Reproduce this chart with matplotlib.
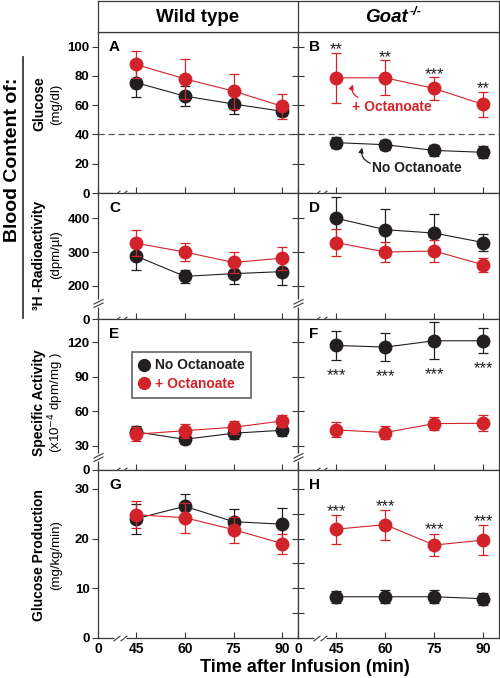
import matplotlib

matplotlib.use("Agg")
import matplotlib.pyplot as plt
from matplotlib.lines import Line2D
from matplotlib.path import Path
from matplotlib import transforms

plt.rcParams["font.family"] = ["Liberation Sans", "DejaVu Sans"]

BLACK = "#231f20"
RED = "#d2232a"
AXIS = "#3a3a3a"

# ---- data ----
time = [45, 60, 75, 90]

# A / B: blood glucose (mg/dl)
wt_glc_no, wt_glc_no_err = [75.4, 66.2, 60.8, 55.8], [10, 6.6, 7, 3]
wt_glc_oct, wt_glc_oct_err = [87.8, 78.0, 69.6, 59.2], [9, 13.7, 12, 8.5]
ko_glc_no, ko_glc_no_err = [34.4, 33.0, 29.1, 27.8], [3.9, 3.5, 4, 4]
ko_glc_oct, ko_glc_oct_err = [78.7, 78.7, 71.4, 60.5], [17, 12, 7.6, 8.4]

# C / D: 3H radioactivity (dpm/ul)
wt_rad_no, wt_rad_no_err = [288, 228, 236, 242], [40, 20, 31, 40]
wt_rad_oct, wt_rad_oct_err = [326, 300, 269, 282], [38, 28, 32, 34]
ko_rad_no, ko_rad_no_err = [400, 366, 356, 328], [62, 62, 57, 25]
ko_rad_oct, ko_rad_oct_err = [328, 300, 303, 262], [39, 30, 34, 20]

# E / F: specific activity (x10^-4 dpm/mg)
wt_sa_no, wt_sa_no_err = [42.0, 35.5, 40.8, 43.4], [5, 4, 5, 5]
wt_sa_oct, wt_sa_oct_err = [40.0, 43.0, 46.0, 51.5], [6, 6, 5.5, 5.5]
ko_sa_no, ko_sa_no_err = [117.4, 116.0, 121.5, 121.5], [12.5, 12, 16, 11]
ko_sa_oct, ko_sa_oct_err = [43.7, 41.4, 49.2, 49.5], [6.5, 5.5, 5.5, 7]

# G / H: glucose production (mg/kg/min)
wt_gp_no, wt_gp_no_err = [24.0, 26.5, 23.4, 22.9], [3, 2.4, 2.5, 3.3]
wt_gp_oct, wt_gp_oct_err = [24.8, 24.2, 21.8, 19.0], [2.7, 3, 2.6, 2]
ko_gp_no, ko_gp_no_err = [8.3, 8.3, 8.3, 7.9], [1.2, 1.3, 1.3, 1.2]
ko_gp_oct, ko_gp_oct_err = [21.9, 22.8, 18.7, 19.7], [2.9, 3, 2.3, 3.1]

stars_B = ["**", "**", "***", "**"]
stars_F = ["***", "***", "***", "***"]
stars_H = ["***", "***", "***", "***"]

xtick_labels = ["0", "45", "60", "75", "90"]
panel_letters = [["A", "B"], ["C", "D"], ["E", "F"], ["G", "H"]]
ylabels = [("Glucose", "(mg/dl)"),
           ("³H -Radioactivity", "(dpm/µl)"),
           ("Specific Activity", "(x10$^{-4}$ dpm/mg )"),
           ("Glucose Production", "(mg/kg/min)")]

# ---- layout (pixels of a 500x678 canvas) ----
W, H = 500, 678
ROWS = [(32, 193), (193, 319), (319, 470), (470, 638)]
COLS = [(98, 298), (298, 499)]
XLIM = (33.3, 94.8)
XBREAK = 40.1
ROW_CFG = [
    dict(ylim=(0, 110), ticks=[0, 20, 40, 60, 80, 100],
         labels=["0", "20", "40", "60", "80", "100"], ybreak=None, minor=[]),
    dict(ylim=(101.8, 474.6), ticks=[101.8, 200, 300, 400],
         labels=["0", "200", "300", "400"], ybreak=150, minor=[]),
    dict(ylim=(8.7, 140.5), ticks=[8.7, 30, 60, 90, 120],
         labels=["0", "30", "60", "90", "120"], ybreak=20.4, minor=[]),
    dict(ylim=(0, 33.8), ticks=[0, 10, 20, 30],
         labels=["0", "10", "20", "30"], ybreak=None, minor=[5, 15, 25]),
]
LABEL_Y = [104, 255, 403, 555]

series = [
    [((wt_glc_no, wt_glc_no_err), (wt_glc_oct, wt_glc_oct_err)),
     ((ko_glc_no, ko_glc_no_err), (ko_glc_oct, ko_glc_oct_err))],
    [((wt_rad_no, wt_rad_no_err), (wt_rad_oct, wt_rad_oct_err)),
     ((ko_rad_no, ko_rad_no_err), (ko_rad_oct, ko_rad_oct_err))],
    [((wt_sa_no, wt_sa_no_err), (wt_sa_oct, wt_sa_oct_err)),
     ((ko_sa_no, ko_sa_no_err), (ko_sa_oct, ko_sa_oct_err))],
    [((wt_gp_no, wt_gp_no_err), (wt_gp_oct, wt_gp_oct_err)),
     ((ko_gp_no, ko_gp_no_err), (ko_gp_oct, ko_gp_oct_err))],
]


def frac(x0, y0, x1, y1):
    return [x0 / W, 1 - y1 / H, (x1 - x0) / W, (y1 - y0) / H]


M, L = Path.MOVETO, Path.LINETO
SLASH_X = Path([(-1, -0.4), (0, 0.4), (0, -0.4), (1, 0.4)], [M, L, M, L])
SLASH_Y = Path([(-1, -0.85), (1, 0.15), (-1, -0.15), (1, 0.85)], [M, L, M, L])

fig = plt.figure(figsize=(W / 100, H / 100), dpi=100)

axes = []
for r, (y0, y1) in enumerate(ROWS):
    cfg = ROW_CFG[r]
    row = []
    for c, (x0, x1) in enumerate(COLS):
        ax = fig.add_axes(frac(x0, y0, x1, y1))
        ax.set_xlim(*XLIM)
        ax.set_ylim(*cfg["ylim"])
        for s in ax.spines.values():
            s.set_color(AXIS)
            s.set_linewidth(0.9)
        ax.set_xticks([XLIM[0]] + time)
        ax.tick_params(axis="x", direction="in", length=4, width=0.8, color=AXIS,
                       labelsize=10, pad=3)
        if r == len(ROWS) - 1:
            ax.set_xticklabels(xtick_labels, fontweight="bold")
        else:
            ax.set_xticklabels([])
        yt = [t for t in cfg["ticks"] if t != cfg["ylim"][0]] if c == 1 else cfg["ticks"]
        ax.set_yticks(yt)
        if c == 0:
            ax.set_yticklabels(cfg["labels"], fontweight="bold")
            ax.tick_params(axis="y", direction="out", length=4, width=0.8, color=AXIS,
                           labelsize=9.5, pad=2)
        else:
            ax.set_yticklabels([])
            ax.set_yticks(cfg["minor"], minor=True)
            ax.tick_params(axis="y", which="both", direction="inout", length=8, width=0.8,
                           color=AXIS)
        # x-axis break
        bx = transforms.blended_transform_factory(ax.transData, ax.transAxes)
        ax.plot([XBREAK], [0], transform=bx, marker="_", ms=9, mew=2.5, color="white",
                clip_on=False, zorder=5)
        ax.plot([XBREAK], [0], transform=bx, marker=SLASH_X, ms=10, mew=0.8, mfc="none",
                color=AXIS, clip_on=False, zorder=6)
        # y-axis break
        if cfg["ybreak"] is not None:
            by = transforms.blended_transform_factory(ax.transAxes, ax.transData)
            ax.plot([0], [cfg["ybreak"]], transform=by, marker="|", ms=6, mew=2.5,
                    color="white", clip_on=False, zorder=5)
            ax.plot([0], [cfg["ybreak"]], transform=by, marker=SLASH_Y, ms=7.2, mew=0.8,
                    mfc="none", color=AXIS, clip_on=False, zorder=6)
        (no, no_err), (oc, oc_err) = series[r][c]
        ax.errorbar(time, no, yerr=no_err, fmt="o-", color=BLACK, ms=9, lw=0.8,
                    elinewidth=0.9, capsize=3.6, capthick=0.9, zorder=3)
        ax.errorbar(time, oc, yerr=oc_err, fmt="o-", color=RED, ms=9, lw=0.8,
                    elinewidth=0.9, capsize=3.6, capthick=0.9, zorder=4)
        ax.text(8, -5, panel_letters[r][c], transform=ax.transAxes
                + transforms.ScaledTranslation(0, 0, fig.dpi_scale_trans),
                fontsize=11, fontweight="bold", ha="left", va="top")
        row.append(ax)
    axes.append(row)

# panel letters placed with an offset from the top-left corner
for row in axes:
    for ax in row:
        t = ax.texts[-1]
        t.set_position((0, 1))
        t.set_transform(ax.transAxes + transforms.ScaledTranslation(8 / 72, -6 / 72,
                                                                     fig.dpi_scale_trans))

# dashed 40 mg/dl reference line
for ax in axes[0]:
    ax.axhline(40, color="#555555", lw=0.9, dashes=(5, 3), zorder=1)

# significance stars
axB, axF, axH = axes[0][1], axes[2][1], axes[3][1]
for t, y, e, s in zip(time, ko_glc_oct, ko_glc_oct_err, stars_B):
    axB.annotate(s, (t, y + e), xytext=(0, -1), textcoords="offset points",
                 ha="center", va="baseline", fontsize=12, color=BLACK)
for t, y, e, s in zip(time, ko_sa_no, ko_sa_no_err, stars_F):
    axF.annotate(s, (t, y - e), xytext=(0, -14.5), textcoords="offset points",
                 ha="center", va="baseline", fontsize=12, color=BLACK)
for t, y, e, s in zip(time, ko_gp_oct, ko_gp_oct_err, stars_H):
    axH.annotate(s, (t, y + e), xytext=(0, -0.7), textcoords="offset points",
                 ha="center", va="baseline", fontsize=12, color=BLACK)

# in-panel labels for panel B
axB.text(61.9, 58.5, "+ Octanoate", color=RED, fontsize=10, fontweight="bold",
         ha="center", va="center")
axB.annotate("", xy=(50.1, 74.2), xytext=(51.6, 65.3),
             arrowprops=dict(arrowstyle="-|>", color=RED, lw=0.9, mutation_scale=7,
                             connectionstyle="arc3,rad=-0.4", shrinkA=0, shrinkB=0))
axB.text(69.7, 16.9, "No Octanoate", color=BLACK, fontsize=10, fontweight="bold",
         ha="center", va="center")
axB.annotate("", xy=(52.9, 31.0), xytext=(55.4, 20.3),
             arrowprops=dict(arrowstyle="-|>", color=BLACK, lw=0.9, mutation_scale=7,
                             connectionstyle="arc3,rad=-0.4", shrinkA=0, shrinkB=0))

# legend in panel E
handles = [Line2D([], [], ls="none", marker="o", ms=8.5, color=BLACK),
           Line2D([], [], ls="none", marker="o", ms=8.5, color=RED)]
leg = axes[2][0].legend(handles, ["No Octanoate", "+ Octanoate"], loc="upper left",
                        bbox_to_anchor=(0.17, 0.78), labelcolor=[BLACK, RED],
                        prop=dict(weight="bold", size=10), frameon=True, fancybox=False,
                        handlelength=0.8, handletextpad=0.4, borderpad=0.45,
                        labelspacing=0.35, borderaxespad=0)
leg.get_frame().set_edgecolor(AXIS)
leg.get_frame().set_linewidth(1.2)

# header box
hdr = fig.add_axes(frac(98, 0.7, 499, 32))
hdr.set_xlim(0, 1)
hdr.set_ylim(0, 1)
hdr.set_xticks([])
hdr.set_yticks([])
for s in hdr.spines.values():
    s.set_color(AXIS)
    s.set_linewidth(0.9)
hdr.axvline((298 - 98) / (499 - 98), color=AXIS, lw=0.9)
fig.text(198 / W, 1 - 17 / H, "Wild type", fontsize=13.5, fontweight="bold",
         ha="center", va="center")
fig.text(408 / W, 1 - 17 / H, "Goat", fontsize=13.5, fontweight="bold", style="italic",
         ha="right", va="center")
fig.text(410 / W, 1 - 12 / H, "-/-", fontsize=9, fontweight="bold", style="italic",
         ha="left", va="center")

# y labels
for (l1, l2), yc in zip(ylabels, LABEL_Y):
    fig.text(39 / W, 1 - yc / H, l1, rotation=90, fontsize=10, fontweight="bold",
             ha="center", va="center")
    fig.text(56 / W, 1 - yc / H, l2, rotation=90, fontsize=9.5,
             ha="center", va="center")

fig.text(13 / W, 1 - 160 / H, "Blood Content of:", rotation=90, fontsize=14,
         fontweight="bold", ha="center", va="center")
fig.add_artist(Line2D([23 / W, 23 / W], [1 - 57 / H, 1 - 318 / H], color=AXIS, lw=1.3))

fig.text(305 / W, 1 - 668 / H, "Time after Infusion (min)", fontsize=13,
         fontweight="bold", ha="center", va="center")

fig.savefig("out.png", dpi=100)
